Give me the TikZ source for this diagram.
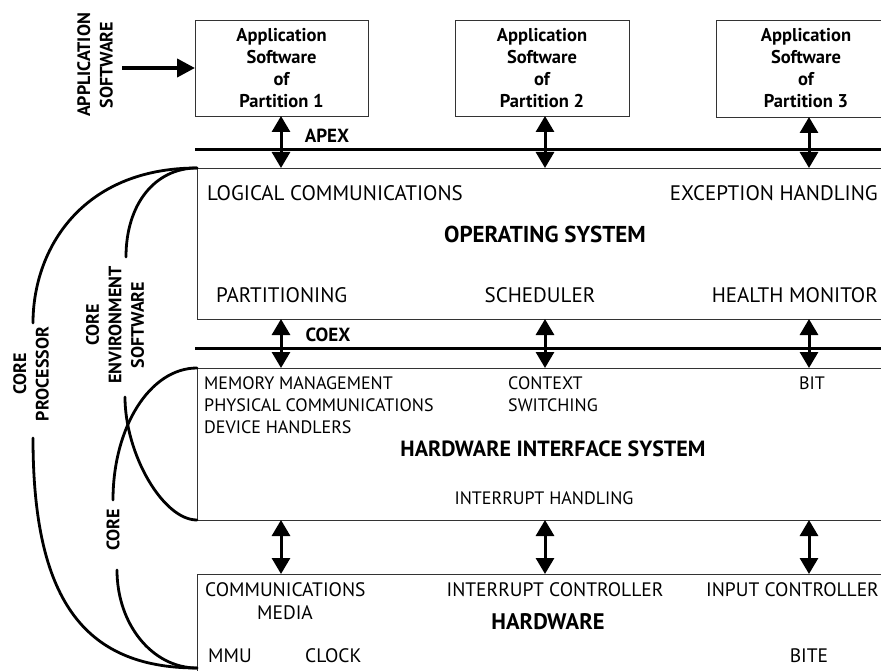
\documentclass[tikz,border=0pt]{standalone}
\usepackage{fontspec}
\setmainfont{PT Sans}
\usetikzlibrary{arrows.meta}
\begin{document}
\begin{tikzpicture}[x=1pt,y=-1pt,
  box/.style={draw=black!80,line width=0.9pt,anchor=north west,inner sep=0pt,outer sep=0pt},
  apptext/.style={align=center,font=\bfseries\fontsize{18.5}{22}\selectfont},
  bus/.style={line width=3pt},
  dbl/.style={line width=3pt,{Triangle[length=16pt,width=18pt]}-{Triangle[length=16pt,width=18pt]}},
  feed/.style={line width=4pt,-{Triangle[length=18pt,width=18pt]}},
  bracket/.style={line width=2.8pt,line cap=round},
  lbl/.style={inner sep=0pt,font=\bfseries\fontsize{19}{22}\selectfont},
  side/.style={inner sep=0pt,rotate=90,align=center,font=\bfseries\fontsize{18}{22.5}\selectfont},
  ostxt/.style={inner sep=0pt,font=\fontsize{21}{24}\selectfont},
  histxt/.style={inner sep=0pt,font=\fontsize{18}{22}\selectfont},
  hwtxt/.style={inner sep=0pt,font=\fontsize{19.5}{22}\selectfont},
  title/.style={inner sep=0pt,font=\bfseries\fontsize{22}{24}\selectfont}]
\useasboundingbox (0,0) rectangle (881,671);
\clip (0,0) rectangle (881,671);

% application partitions
\node[box,minimum width=173pt,minimum height=96pt,apptext] (app1) at (195,20)
  {Application\\Software\\of\\Partition 1};
\node[box,minimum width=174pt,minimum height=96pt,apptext] (app2) at (455,20)
  {Application\\Software\\of\\Partition 2};
\node[box,minimum width=180pt,minimum height=97pt,apptext] (app3) at (716,20)
  {Application\\Software\\of\\Partition 3};

% layered boxes
\node[box,minimum width=720pt,minimum height=151pt] (os) at (197,168) {};
\node[box,minimum width=720pt,minimum height=152pt] (his) at (197,368) {};
\node[box,minimum width=720pt,minimum height=100pt] (hw) at (197,574) {};

% interface buses
\coordinate (apexL) at (195,150);
\coordinate (coexL) at (195,348);
\draw[bus] (apexL) -- (apexL -| os.east);
\draw[bus] (coexL) -- (coexL -| os.east);
\node[lbl] (apex) at (327,136) {APEX};
\node[lbl] (coex) at (328,335) {COEX};

% vertical links
\coordinate (c1) at (281,0);
\coordinate (c2) at (545,0);
\coordinate (c3) at (809,0);
\draw[dbl] (c1 |- app1.south) -- (c1 |- os.north);
\draw[dbl] (c2 |- app2.south) -- (c2 |- os.north);
\draw[dbl] (c3 |- app3.south) -- (c3 |- os.north);
\foreach \c in {c1,c2,c3}{
  \draw[dbl] (\c |- os.south) -- (\c |- his.north);
  \draw[dbl] (\c |- his.south) -- (\c |- hw.north);
}

% application software input
\node[side] (appsw) at (95,65) {APPLICATION\\SOFTWARE};
\coordinate (feedL) at (122,68);
\draw[feed] (feedL) -- (app1.west);

% operating system
\node[ostxt,anchor=base west] (logcom) at (207,201) {LOGICAL COMMUNICATIONS};
\node[ostxt,anchor=base east] (exch) at (878,201) {EXCEPTION HANDLING};
\node[title,anchor=base,font=\bfseries\fontsize{23}{24}\selectfont] (ostitle) at (545,243) {OPERATING SYSTEM};
\node[ostxt,anchor=base west] (parti) at (216,302) {PARTITIONING};
\node[ostxt,anchor=base] (sched) at (540,302) {SCHEDULER};
\node[ostxt,anchor=base east] (health) at (878,302) {HEALTH MONITOR};

% hardware interface system
\node[histxt,anchor=base west] (memm) at (204,389) {MEMORY MANAGEMENT};
\node[histxt,anchor=base west] (phys) at (204,411) {PHYSICAL COMMUNICATIONS};
\node[histxt,anchor=base west] (devh) at (204,433) {DEVICE HANDLERS};
\node[histxt,anchor=base west] (ctx) at (508,389) {CONTEXT};
\node[histxt,anchor=base west] (swi) at (508,411) {SWITCHING};
\node[histxt,anchor=base] (bit) at (812,389) {BIT};
\node[title,anchor=base] (histitle) at (553,456) {HARDWARE INTERFACE SYSTEM};
\node[histxt,anchor=base] (inth) at (544,504) {INTERRUPT HANDLING};

% hardware
\node[hwtxt,anchor=base west] (comm) at (205,596) {COMMUNICATIONS};
\node[hwtxt,anchor=base] (media) at (285,619) {MEDIA};
\node[hwtxt,anchor=base] (intc) at (555,596) {INTERRUPT CONTROLLER};
\node[hwtxt,anchor=base east] (inpc) at (879,596) {INPUT CONTROLLER};
\node[title,anchor=base,font=\bfseries\fontsize{22.5}{24}\selectfont] (hwtitle) at (548,629) {HARDWARE};
\node[hwtxt,anchor=base west] (mmu) at (208,662) {MMU};
\node[hwtxt,anchor=base west] (clk) at (305,662) {CLOCK};
\node[hwtxt,anchor=base] (bite) at (809,662) {BITE};

% grouping brackets on the left
\coordinate (hwend) at (197,668);
\node[side] (cp) at (31,374) {CORE\\PROCESSOR};
\node[side] (ces) at (115,325) {CORE\\ENVIRONMENT\\SOFTWARE};
\node[side] (core) at (113,530) {CORE};

% core processor: operating system down to hardware
\draw[bracket] (os.north west) .. controls (82,168) and (33,249) .. (33,323);
\draw[bracket] (33,438) .. controls (33,597) and (82,668) .. (hwend);
% core environment software: operating system and interface system
\draw[bracket] (os.north west) .. controls (155,168) and (126,204) .. (126,257);
\draw[bracket] (125,397) .. controls (125,454) and (163,520) .. (his.south west);
% core: interface system and hardware
\draw[bracket] (his.north west) .. controls (150,368) and (113,427) .. (113,500);
\draw[bracket] (117,570) .. controls (117,624) and (152,668) .. (hwend);
\end{tikzpicture}
\end{document}
